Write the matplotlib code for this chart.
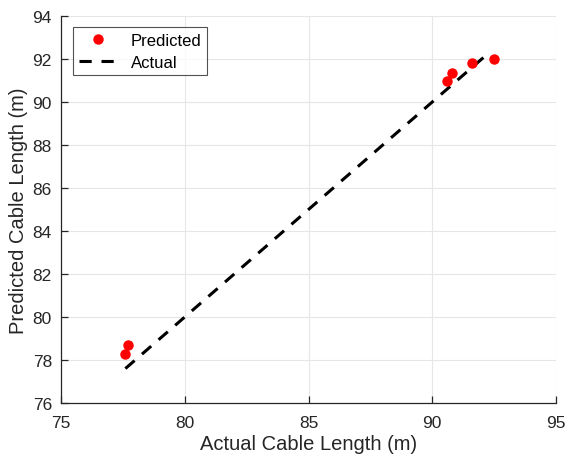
import numpy as np
import matplotlib.pyplot as plt

plt.rcParams['font.family'] = ['Liberation Sans', 'DejaVu Sans']

# data
actual = [77.6, 77.7, 90.6, 90.8, 91.6, 92.5]
predicted = [78.3, 78.7, 91.0, 91.35, 91.8, 92.0]
line_ends = [77.6, 92.1]

x_ticks = [75, 80, 85, 90, 95]
y_ticks = [76, 78, 80, 82, 84, 86, 88, 90, 92, 94]

txt = '#262626'

fig = plt.figure(figsize=(5.69, 4.64), dpi=100)
ax = fig.add_axes([61/569, 1 - 404/464, (556-61)/569, (404-17)/464])

ax.plot(actual, predicted, 'o', color='red', markersize=6.5, label='Predicted', zorder=3)
ax.plot(line_ends, line_ends, '--', color='black', linewidth=2.2, dashes=(4, 3.2), label='Actual', zorder=2)

ax.set_xlim(75, 95)
ax.set_ylim(76, 94)
ax.set_xticks(x_ticks)
ax.set_yticks(y_ticks)
ax.grid(True, color='#e6e6e6', linewidth=0.8)
ax.set_axisbelow(True)

for s in ['top', 'right']:
    ax.spines[s].set_visible(False)
for s in ['left', 'bottom']:
    ax.spines[s].set_color(txt)
    ax.spines[s].set_linewidth(0.9)
ax.tick_params(direction='in', length=5, width=0.9, colors=txt, labelsize=12.5)
ax.tick_params(axis='x', pad=8.5)
ax.tick_params(axis='y', pad=6.5)

ax.set_xlabel('Actual Cable Length (m)', fontsize=14.5, color=txt, labelpad=3)
ax.set_ylabel('Predicted Cable Length (m)', fontsize=14.5, color=txt, labelpad=3)

leg = ax.legend(loc='upper left', bbox_to_anchor=(12/495, 1 - 11/387), fontsize=12,
                frameon=True, fancybox=False, edgecolor=txt, borderpad=0.35,
                labelspacing=0.4, handlelength=2.3, handletextpad=0.8, borderaxespad=0)
leg.get_frame().set_linewidth(0.8)
for t in leg.get_texts():
    t.set_color('black')

fig.savefig('out.png', dpi=100)
